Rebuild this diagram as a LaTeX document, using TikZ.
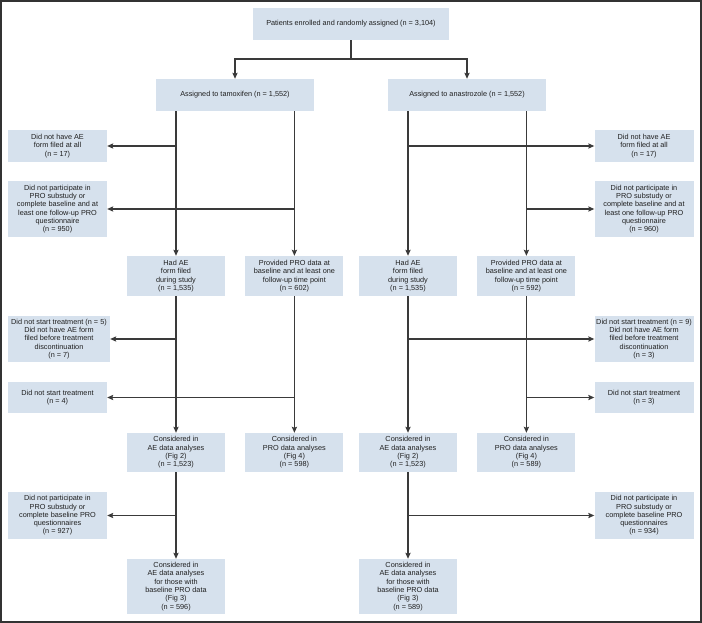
\documentclass[tikz,border=0pt]{standalone}
\usepackage{xcolor}
\usepackage{tikz}
\usepackage{fontspec}
\setmainfont{Liberation Sans}
\usetikzlibrary{arrows.meta, positioning, calc}
\definecolor{boxFill}{HTML}{D6E1ED}
\definecolor{lineDark}{HTML}{3A3A3A}
\definecolor{frameDark}{HTML}{333333}

\begin{document}
\begin{tikzpicture}[
    x=1pt, y=-1pt,
    node distance=20pt,
    box/.style={fill=boxFill, inner sep=0pt, align=center, text=black!88, font=\fontsize{7.3}{8.3}\selectfont},
    colbox/.style={box, minimum width=98pt},
    sidebox/.style={box, minimum width=99pt},
    link/.style={draw=lineDark, line width=1.25pt},
    arr/.style={link, -{Stealth[length=6pt, width=5.2pt, inset=1pt]}},
]
    \useasboundingbox (0,0) rectangle (702,623);
    \draw[frameDark, line width=1.8pt] (0.9,0.9) rectangle (701.1,622.1);

    \node[box, minimum width=196pt, minimum height=32pt] (enrolled) at (351,24) {Patients enrolled and randomly assigned (n = 3,104)};
    \node[box, minimum width=158pt, minimum height=32pt] (tamox) at (235,95) {Assigned to tamoxifen (n = 1,552)};
    \node[box, minimum width=158pt, minimum height=32pt] (anast) at (467,95) {Assigned to anastrozole (n = 1,552)};

    \node[sidebox, minimum height=32pt] (noAeL) at (57.5,146) {Did not have AE\\form filed at all\\(n = 17)};
    \node[sidebox, minimum height=56pt] (noProL) at (57.5,209) {Did not participate in\\PRO substudy or\\complete baseline and at\\least one follow-up PRO\\questionnaire\\(n = 950)};
    \node[sidebox, minimum height=32pt] (noAeR) at (644,146) {Did not have AE\\form filed at all\\(n = 17)};
    \node[sidebox, minimum height=56pt] (noProR) at (644,209) {Did not participate in\\PRO substudy or\\complete baseline and at\\least one follow-up PRO\\questionnaire\\(n = 960)};

    \node[colbox, minimum height=40pt] (hadAeL) at (176,276) {Had AE\\form filed\\during study\\(n = 1,535)};
    \node[colbox, minimum height=40pt, right=of hadAeL] (provL) {Provided PRO data at\\baseline and at least one\\follow-up time point\\(n = 602)};
    \node[colbox, minimum height=40pt] (hadAeR) at (408,276) {Had AE\\form filed\\during study\\(n = 1,535)};
    \node[colbox, minimum height=40pt, right=of hadAeR] (provR) {Provided PRO data at\\baseline and at least one\\follow-up time point\\(n = 592)};

    \node[box, minimum width=102pt, minimum height=46pt] (noStartL) at (59,339) {Did not start treatment (n = 5)\\Did not have AE form\\filed before treatment\\discontinuation\\(n = 7)};
    \node[sidebox, minimum height=31pt] (noStartBL) at (57.5,397.5) {Did not start treatment\\(n = 4)};
    \node[sidebox, minimum height=46pt] (noStartR) at (644,339) {Did not start treatment (n = 9)\\Did not have AE form\\filed before treatment\\discontinuation\\(n = 3)};
    \node[sidebox, minimum height=31pt] (noStartBR) at (644,397.5) {Did not start treatment\\(n = 3)};

    \node[colbox, minimum height=39pt] (consAeL) at (176,452.5) {Considered in\\AE data analyses\\(Fig 2)\\(n = 1,523)};
    \node[colbox, minimum height=39pt, right=of consAeL] (consProL) {Considered in\\PRO data analyses\\(Fig 4)\\(n = 598)};
    \node[colbox, minimum height=39pt] (consAeR) at (408,452.5) {Considered in\\AE data analyses\\(Fig 2)\\(n = 1,523)};
    \node[colbox, minimum height=39pt, right=of consAeR] (consProR) {Considered in\\PRO data analyses\\(Fig 4)\\(n = 589)};

    \node[sidebox, minimum height=47pt] (noBaseL) at (57.5,515.5) {Did not participate in\\PRO substudy or\\complete baseline PRO\\questionnaires\\(n = 927)};
    \node[sidebox, minimum height=47pt] (noBaseR) at (644,515.5) {Did not participate in\\PRO substudy or\\complete baseline PRO\\questionnaires\\(n = 934)};

    \node[colbox, minimum height=55pt] (finalL) at (176,586.5) {Considered in\\AE data analyses\\for those with\\baseline PRO data\\(Fig 3)\\(n = 596)};
    \node[colbox, minimum height=55pt] (finalR) at (408,586.5) {Considered in\\AE data analyses\\for those with\\baseline PRO data\\(Fig 3)\\(n = 589)};

    \coordinate (split) at (351,59);
    \draw[link] (enrolled.south) -- (split);
    \draw[arr] (split) -| (tamox.north);
    \draw[arr] (split) -| (anast.north);

    \draw[arr] (tamox.south -| hadAeL.north) -- (hadAeL.north);
    \draw[arr] (tamox.south -| provL.north) -- (provL.north);
    \draw[arr] (anast.south -| hadAeR.north) -- (hadAeR.north);
    \draw[arr] (anast.south -| provR.north) -- (provR.north);
    \draw[arr] (hadAeL.north |- noAeL.east) -- (noAeL.east);
    \draw[arr] (provL.north |- noProL.east) -- (noProL.east);
    \draw[arr] (hadAeR.north |- noAeR.west) -- (noAeR.west);
    \draw[arr] (provR.north |- noProR.west) -- (noProR.west);

    \draw[arr] (hadAeL.south) -- (consAeL.north);
    \draw[arr] (provL.south) -- (consProL.north);
    \draw[arr] (hadAeR.south) -- (consAeR.north);
    \draw[arr] (provR.south) -- (consProR.north);
    \draw[arr] (hadAeL.south |- noStartL.east) -- (noStartL.east);
    \draw[arr] (provL.south |- noStartBL.east) -- (noStartBL.east);
    \draw[arr] (hadAeR.south |- noStartR.west) -- (noStartR.west);
    \draw[arr] (provR.south |- noStartBR.west) -- (noStartBR.west);

    \draw[arr] (consAeL.south) -- (finalL.north);
    \draw[arr] (consAeR.south) -- (finalR.north);
    \draw[arr] (consAeL.south |- noBaseL.east) -- (noBaseL.east);
    \draw[arr] (consAeR.south |- noBaseR.west) -- (noBaseR.west);
\end{tikzpicture}
\end{document}
